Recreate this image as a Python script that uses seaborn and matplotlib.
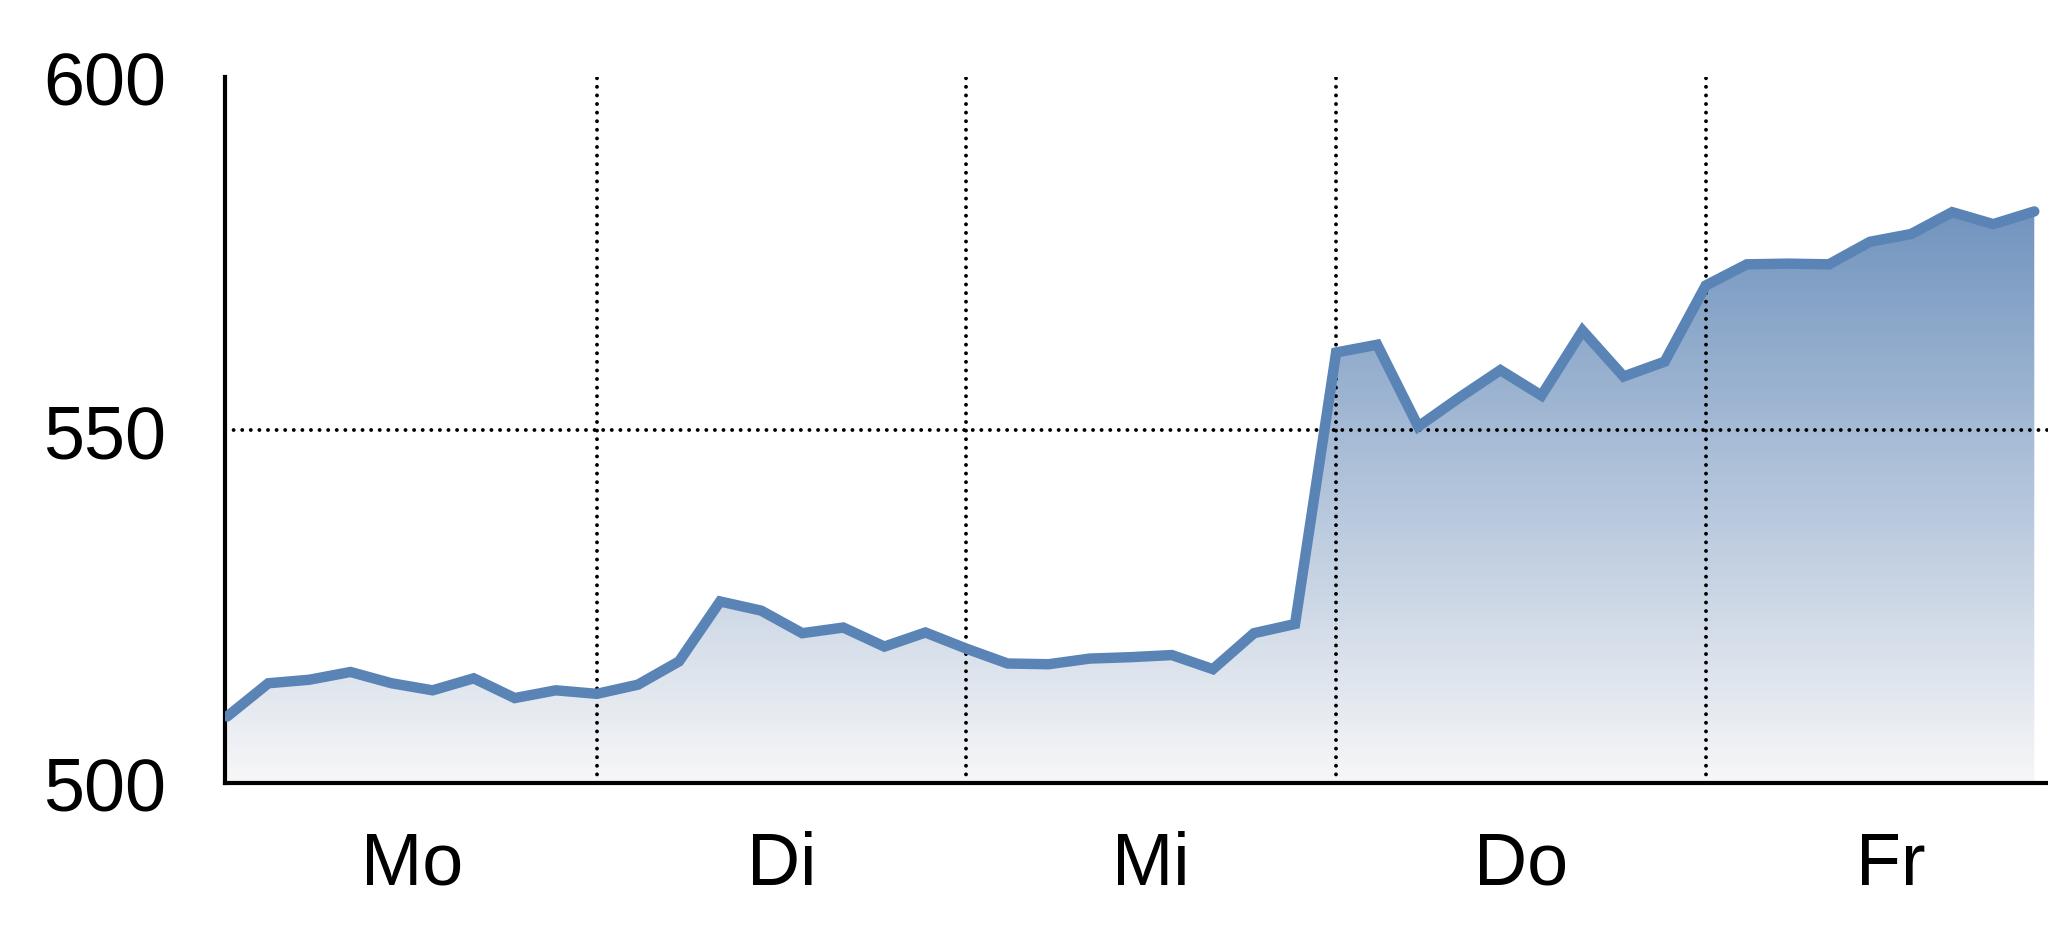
import numpy as np
import pandas as pd
import matplotlib
matplotlib.use("Agg")
import matplotlib.pyplot as plt
import seaborn as sns
from matplotlib import font_manager
from matplotlib.colors import LinearSegmentedColormap
from matplotlib.patches import PathPatch

# data: one value every 1/9 of a day, Mon..Fri
days = ["Mo", "Di", "Mi", "Do", "Fr"]
steps_per_day = 9
values = [
    509.4, 514.1, 514.6, 515.7, 514.1, 513.1, 514.8, 512.0, 513.1,   # Mo
    512.6, 513.9, 517.2, 525.7, 524.4, 521.2, 522.0, 519.3, 521.3,   # Di
    519.0, 516.9, 516.8, 517.6, 517.8, 518.1, 516.1, 521.2, 522.5,   # Mi
    561.0, 562.1, 550.5, 554.6, 558.5, 554.9, 564.1, 557.6, 559.7,   # Do
    570.5, 573.5, 573.6, 573.5, 576.7, 577.8, 580.9, 579.2, 581.0,   # Fr
]
y_ticks = [500, 550, 600]

line_color = "#5a83b6"

df = pd.DataFrame({"t": np.arange(len(values)) / steps_per_day, "value": values})

sns.set_theme(style="white")
avail = {f.name for f in font_manager.fontManager.ttflist}
for fam in ["Liberation Sans Narrow", "DejaVu Sans Condensed", "Liberation Sans"]:
    if fam in avail:
        plt.rcParams["font.family"] = [fam, "DejaVu Sans"]
        break

fig = plt.figure(figsize=(20.48, 9.37), dpi=100)
ax = fig.add_axes([0.1097, 0.1636, 1 - 0.1097, 0.7527])

# gradient fill under the line, clipped to the area polygon
poly = ax.fill_between(df["t"], df["value"], 500, facecolor="none", edgecolor="none")
cmap = LinearSegmentedColormap.from_list("fade", ["#f7f7f8", "#7093be"])
grad = np.linspace(0, 1, 256).reshape(-1, 1)
top = max(values) + 1
im = ax.imshow(grad, cmap=cmap, aspect="auto", origin="lower",
               extent=[df["t"].min(), df["t"].max(), 500, top], zorder=1)
clip = PathPatch(poly.get_paths()[0], transform=ax.transData, facecolor="none", edgecolor="none")
ax.add_patch(clip)
im.set_clip_path(clip)

sns.lineplot(data=df, x="t", y="value", color=line_color, linewidth=7.5,
             solid_joinstyle="miter", solid_capstyle="round", ax=ax, zorder=3)

dots = (0, (0.01, 2.2))
for d in range(1, len(days)):
    ax.axvline(d, color="black", linewidth=2.8, linestyle=dots,
               dash_capstyle="round", zorder=2)
ax.axhline(550, color="black", linewidth=2.8, linestyle=dots,
           dash_capstyle="round", zorder=2)

ax.set_xlim(-0.007, 4.926)
ax.set_ylim(500, 600)
ax.set_yticks(y_ticks)
ax.set_yticklabels([str(v) for v in y_ticks])
ax.set_xticks([i + 0.5 for i in range(len(days))])
ax.set_xticklabels(days)
ax.tick_params(axis="both", length=0, labelsize=53, colors="black")
ax.tick_params(axis="y", pad=42)
ax.tick_params(axis="x", pad=34)
ax.set_xlabel("")
ax.set_ylabel("")

for side in ["top", "right"]:
    ax.spines[side].set_visible(False)
for side in ["left", "bottom"]:
    ax.spines[side].set_color("black")
    ax.spines[side].set_linewidth(3)
ax.grid(False)

fig.savefig("out.png", dpi=100, facecolor="white")
